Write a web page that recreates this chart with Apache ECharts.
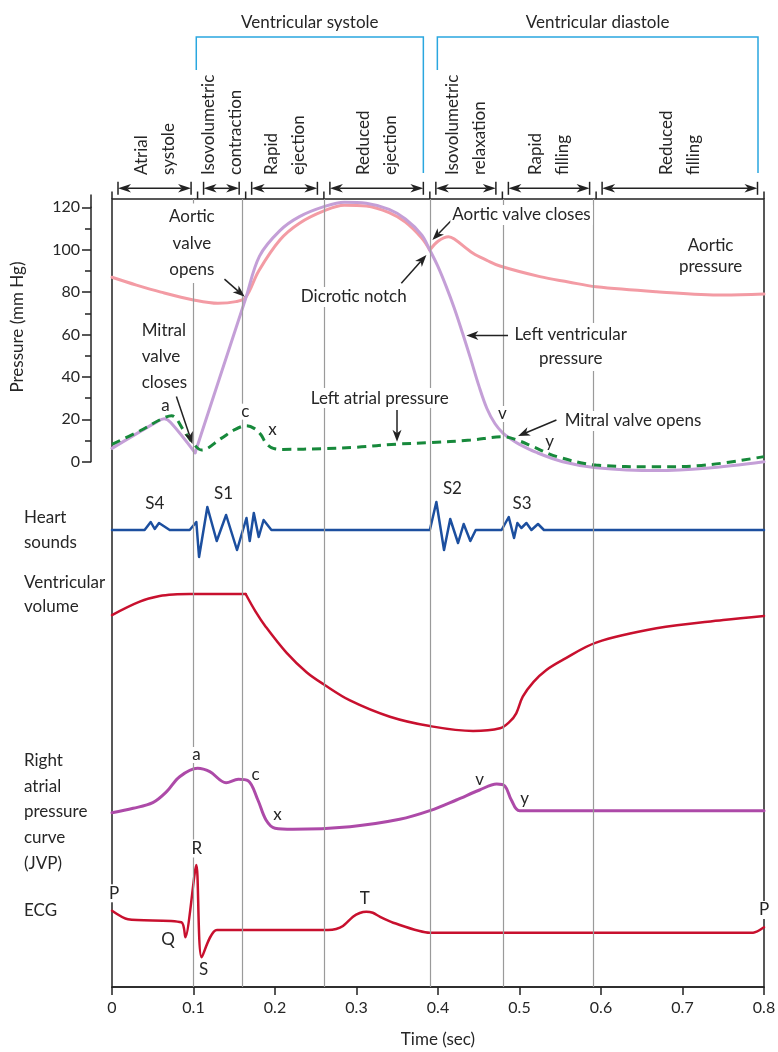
<!DOCTYPE html>
<html>
<head>
<meta charset="utf-8">
<script src="https://cdn.jsdelivr.net/npm/echarts@6/dist/echarts.min.js"></script>
<style>
  html, body { margin: 0; padding: 0; background: #fff; }
  #chart { width: 778px; height: 1052px; }
</style>
</head>
<body>
<div id="chart"></div>
<script>
// phases of the cycle (sec)
const phaseBounds = [0, 0.105, 0.164, 0.26, 0.39, 0.479, 0.594, 0.8];
const phaseNames = ['Atrial\nsystole', 'Isovolumetric\ncontraction', 'Rapid\nejection', 'Reduced\nejection',
  'Isovolumetric\nrelaxation', 'Rapid\nfilling', 'Reduced\nfilling'];

// pressures, mm Hg  [time, value]
const aorticA = [[0, 87], [0.03, 83.3], [0.06, 80], [0.1, 76.3], [0.13, 74.7], [0.152, 75.5], [0.164, 77.5],
  [0.18, 90], [0.206, 104.6], [0.23, 112.5], [0.26, 118.3], [0.285, 121], [0.312, 120.6], [0.34, 117.5],
  [0.36, 113], [0.38, 105.5], [0.39, 99.8]];
const aorticB = [[0.39, 99.8], [0.4, 104], [0.413, 106.1], [0.42, 105], [0.443, 98.3], [0.46, 95], [0.476, 92.3],
  [0.525, 87.3], [0.56, 84.8], [0.594, 82.5], [0.668, 80.2], [0.75, 78.6], [0.8, 79.1]];
const lvA = [[0, 6.3], [0.055, 18.8], [0.064, 20.3], [0.072, 18.5], [0.102, 4.2]];
const lvB = [[0.102, 4.2], [0.132, 39.5], [0.164, 77], [0.181, 97], [0.206, 109], [0.23, 115.6], [0.26, 120.3],
  [0.285, 122.4], [0.312, 121.9], [0.34, 119], [0.36, 114.5], [0.38, 107], [0.39, 99.8], [0.4, 92],
  [0.41, 82.7], [0.42, 72.4], [0.43, 60.8], [0.44, 48.6], [0.45, 36], [0.46, 25.1], [0.47, 17.9],
  [0.48, 13.4], [0.49, 10.6], [0.5, 8.2], [0.52, 4.5], [0.553, 0], [0.594, -2.8], [0.668, -4.2],
  [0.729, -3.1], [0.8, 0]];
const leftAtrial = [[0, 8.2], [0.035, 14.7], [0.06, 20], [0.073, 21.7], [0.089, 14.2], [0.0995, 8.7], [0.11, 5.5],
  [0.134, 11], [0.15, 15], [0.165, 17], [0.175, 15.6], [0.183, 12.6], [0.189, 8.7], [0.198, 6.3], [0.21, 5.8],
  [0.26, 6.2], [0.3, 6.8], [0.349, 8.3], [0.39, 9], [0.44, 10.2], [0.48, 11.8], [0.5, 9.8], [0.517, 7],
  [0.546, 2.4], [0.594, -1.6], [0.668, -2.4], [0.729, -1.6], [0.8, 2.4]];

// heart sounds (relative amplitude)
const heartSounds = [[0, 0],
  [0.04, 0], [0.0475, 8], [0.0524, 1], [0.0577, 7], [0.0708, 0],
  [0.0953, 0], [0.1035, 8], [0.1068, -27], [0.117, 23], [0.1285, -11], [0.14, 15], [0.1534, -20], [0.165, 12],
  [0.169, -11], [0.174, 17], [0.18, -7], [0.186, 10], [0.1956, 0],
  [0.39, 0], [0.398, 28], [0.4074, -20], [0.415, 11], [0.4246, -13], [0.4315, 6], [0.4397, -11], [0.4463, 0],
  [0.478, 0], [0.4868, 13], [0.4933, -8], [0.4974, 7], [0.5023, 2], [0.5085, 7], [0.5146, 0], [0.5227, 6], [0.53, 0],
  [0.8, 0]];

// ventricular volume (mL)
const volumeA = [[0, 117.6], [0.034, 125.5], [0.0585, 128.8], [0.08, 129.8], [0.095, 130], [0.164, 130]];
const volumeB = [[0.164, 130], [0.176, 119.8], [0.189, 110.5], [0.214, 95.5], [0.2387, 84], [0.26, 76.8],
  [0.292, 67.4], [0.341, 57.8], [0.39, 52.3], [0.443, 49.4], [0.476, 51], [0.488, 54.9], [0.496, 59.8],
  [0.504, 69.6], [0.517, 78.2], [0.533, 85.3], [0.553, 91.2], [0.594, 101.4], [0.668, 109.8],
  [0.75, 114.7], [0.8, 117.1]];

// right atrial pressure (mm Hg)
const rightAtrial = [[0, 3.66], [0.026, 4.1], [0.05, 4.66], [0.067, 5.76], [0.083, 7.26], [0.105, 8.1],
  [0.12, 7.76], [0.14, 6.66], [0.155, 7.0], [0.167, 6.86], [0.179, 4.93], [0.189, 2.93], [0.2, 2.1],
  [0.222, 2.0], [0.292, 2.26], [0.353, 3.0], [0.39, 3.86], [0.4226, 4.93], [0.451, 5.93], [0.472, 6.53],
  [0.482, 6.33], [0.49, 4.93], [0.5, 3.86], [0.8, 3.86]];

// ECG (mV)
const ecg = [[0, 0.386], [0.0196, 0.214], [0.0851, 0.154], [0.09, -0.146], [0.1035, 1.3], [0.11, -0.546],
  [0.1288, 0], [0.265, 0], [0.275, 0.02], [0.2834, 0.08], [0.2957, 0.266], [0.304, 0.34], [0.312, 0.366],
  [0.32, 0.345], [0.3285, 0.266], [0.345, 0.146], [0.39, -0.054], [0.7866, -0.054], [0.8, 0.054]];

// annotations in data coordinates: text, time, value, align, line height, white box
const pressureNotes = [
  ['Aortic\nvalve\nopens', 0.098, 103, 'center', 26.5, true],
  ['Mitral\nvalve\ncloses', 0.034, 49.6, 'left', 26.3, true],
  ['a', 0.0655, 26.7, 'center', 16, false],
  ['c', 0.1637, 23.6, 'center', 16, true],
  ['x', 0.1968, 15, 'center', 16, false],
  ['Dicrotic notch', 0.2966, 77.7, 'center', 20, true],
  ['Aortic valve closes', 0.4151, 116.4, 'left', 20, true],
  ['Aortic\npressure', 0.7345, 96.9, 'center', 21, true],
  ['Left ventricular\npressure', 0.5628, 54.1, 'center', 24, true],
  ['Left atrial pressure', 0.3285, 30, 'center', 20, true],
  ['v', 0.479, 22.5, 'center', 16, true],
  ['Mitral valve opens', 0.553, 19.2, 'left', 20, true],
  ['y', 0.537, 9.4, 'center', 16, false]
];
const pressureArrows = [
  [[0.138, 86.1], [0.1628, 77.8]],
  [[0.079, 30.7], [0.0987, 8.4]],
  [[0.355, 84.2], [0.3858, 97.5]],
  [[0.4205, 115.4], [0.3931, 104.6]],
  [[0.4859, 59.5], [0.4348, 59.5]],
  [[0.3497, 24.4], [0.3497, 9.4]],
  [[0.5453, 19.7], [0.4982, 12.1]]
];
const soundNotes = [['S4', 0.0524, 26.7], ['S1', 0.137, 36.7], ['S2', 0.4177, 41], ['S3', 0.503, 26]];
const rightAtrialNotes = [['a', 0.1036, 9.43, true], ['c', 0.176, 7.43, false], ['x', 0.203, 3.43, false],
  ['v', 0.451, 6.93, false], ['y', 0.5064, 5.1, false]];
const ecgNotes = [['P', 0.0025, 0.734], ['Q', 0.0687, -0.186], ['R', 0.104, 1.63], ['S', 0.1125, -0.8],
  ['T', 0.31, 0.62], ['P', 0.8, 0.4]];

const FONT = 'Lato';
const INK = '#222';
const TXT = '#262626';
const LEFT = 112, RIGHT = 14;

const chart = echarts.init(document.getElementById('chart'));

const grids = [
  { top: 199, height: 788, show: true, borderColor: INK, borderWidth: 1.5, backgroundColor: 'transparent' },
  { top: 207.3, height: 254.4 },
  { top: 490, height: 80 },
  { top: 577, height: 170 },
  { top: 749.3, height: 100 },
  { top: 855, height: 150 }
].map(g => Object.assign({ left: LEFT, right: RIGHT, outerBoundsMode: 'none', containLabel: false }, g));

const xAxes = grids.map((g, i) => ({
  type: 'value', gridIndex: i, min: 0, max: 0.8, interval: 0.1, show: i === 0,
  axisLine: { show: true, onZero: false, lineStyle: { color: INK, width: 1.5 } },
  axisTick: { show: true, inside: false, length: 8, lineStyle: { color: INK, width: 1.5 } },
  axisLabel: { color: TXT, fontSize: 16, fontFamily: FONT, margin: 13 },
  splitLine: { show: false },
  name: i === 0 ? 'Time (sec)' : '', nameLocation: 'middle', nameGap: 44,
  nameTextStyle: { color: TXT, fontSize: 17, fontFamily: FONT }
}));

const yRanges = [[0, 1], [0, 120], [-40, 40], [40, 140], [0, 10], [-1.5, 1.5]];
const yAxes = yRanges.map((r, i) => ({
  type: 'value', gridIndex: i, min: r[0], max: r[1], show: i === 1,
  splitLine: { show: false }
}));
Object.assign(yAxes[1], {
  interval: 20, offset: 21,
  axisLine: { show: true, onZero: false, lineStyle: { color: INK, width: 1.5 } },
  axisTick: { show: true, inside: false, length: 9, lineStyle: { color: INK, width: 1.5 } },
  minorTick: { show: true, splitNumber: 2, length: 6, lineStyle: { color: INK, width: 1.5 } },
  axisLabel: { color: TXT, fontSize: 16, fontFamily: FONT, margin: 11 }
});

function curve(data, gi, color, width, smooth, extra) {
  return Object.assign({
    type: 'line', data, xAxisIndex: gi, yAxisIndex: gi, symbol: 'none', showSymbol: false,
    smooth, clip: false, silent: true,
    lineStyle: { color, width, cap: 'round', join: 'round' }
  }, extra || {});
}

const PINK = '#f39ba4', LAV = '#c49fd7', GREEN = '#17893b', BLUE = '#1c4f9f', RED = '#c8102e', MAG = '#ad4aa8';

const series = [
  {
    type: 'line', data: [], xAxisIndex: 0, yAxisIndex: 0, symbol: 'none', silent: true,
    markLine: {
      silent: true, symbol: ['none', 'none'], label: { show: false },
      lineStyle: { color: '#9a9a9a', width: 1.2, type: 'solid' },
      data: phaseBounds.slice(1, -1).map(t => ({ xAxis: t }))
    }
  },
  curve(aorticA, 1, PINK, 3, 0.35),
  curve(aorticB, 1, PINK, 3, 0.35),
  curve(lvA, 1, LAV, 3, 0.35),
  curve(lvB, 1, LAV, 3, 0.35),
  curve(leftAtrial, 1, GREEN, 3, 0.35, { lineStyle: { color: GREEN, width: 3, type: [9, 6] } }),
  curve(heartSounds, 2, BLUE, 2.5, false),
  curve(volumeA, 3, RED, 2.5, 0.35),
  curve(volumeB, 3, RED, 2.5, 0.35),
  curve(rightAtrial, 4, MAG, 3, 0.35),
  curve(ecg, 5, RED, 2.5, 0.25)
];

chart.setOption({
  animation: false,
  backgroundColor: '#fff',
  textStyle: { fontFamily: FONT },
  grid: grids, xAxis: xAxes, yAxis: yAxes, series
});

// ---- annotations, placed through the chart's own scales ----
const P = (gi, t, v) => chart.convertToPixel({ gridIndex: gi }, [t, v]);
const X = t => P(0, t, 0)[0];
const g = [];

function text(str, p, o) {
  o = o || {};
  const align = o.align || 'center', valign = o.valign || 'middle';
  const style = {
    text: str, fill: o.fill || TXT, fontSize: o.size || 17, fontFamily: FONT,
    align, verticalAlign: valign, textAlign: align, textVerticalAlign: valign,
    lineHeight: o.lh || 22
  };
  if (o.bg !== false) { style.backgroundColor = '#fff'; style.padding = [0, 2]; }
  g.push({ type: 'text', x: p[0], y: p[1], rotation: o.rotation || 0, z: 200, silent: true, style });
}
function seg(p0, p1, stroke, w) {
  g.push({ type: 'line', z: 190, silent: true, shape: { x1: p0[0], y1: p0[1], x2: p1[0], y2: p1[1] },
    style: { stroke: stroke || INK, lineWidth: w || 1.5 } });
}
function head(tip, from, len, half) {
  const dx = tip[0] - from[0], dy = tip[1] - from[1];
  const d = Math.hypot(dx, dy), ux = dx / d, uy = dy / d, nx = -uy, ny = ux;
  const bx = tip[0] - ux * len, by = tip[1] - uy * len;
  const mx = tip[0] - ux * len * 0.72, my = tip[1] - uy * len * 0.72;
  g.push({ type: 'polygon', z: 191, silent: true,
    shape: { points: [tip, [bx + nx * half, by + ny * half], [mx, my], [bx - nx * half, by - ny * half]] },
    style: { fill: INK } });
  return [mx, my];
}
function arrow(p0, p1) {
  const base = head(p1, p0, 12, 4.5);
  seg(p0, base);
}

// pressure panel notes
pressureNotes.forEach(n => text(n[0], P(1, n[1], n[2]), { align: n[3], lh: n[4], bg: n[5] }));
pressureArrows.forEach(a => arrow(P(1, a[0][0], a[0][1]), P(1, a[1][0], a[1][1])));

// pressure axis line runs a bit above 120, title beside it
const axX = X(0) - 21;
seg([axX, P(1, 0, 120)[1]], [axX, P(1, 0, 126)[1]], INK, 1.5);
text('Pressure (mm Hg)', [axX - 73, P(1, 0, 63.5)[1]], { rotation: Math.PI / 2, bg: false });

soundNotes.forEach(n => text(n[0], P(2, n[1], n[2]), { bg: false }));
rightAtrialNotes.forEach(n => text(n[0], P(4, n[1], n[2]), { bg: n[3], lh: 16 }));
ecgNotes.forEach(n => text(n[0], P(5, n[1], n[2]), { lh: 18 }));

// row titles on the left
text('Heart\nsounds', [22, P(2, 0, 0)[1]], { align: 'left', lh: 25 });
text('Ventricular\nvolume', [22, P(3, 0, 129.5)[1]], { align: 'left', lh: 24 });
text('Right\natrial\npressure\ncurve\n(JVP)', [22, P(4, 0, 3.73)[1]], { align: 'left', lh: 25.7 });
text('ECG', [22, P(5, 0, 0.38)[1]], { align: 'left' });

// phase arrows above the frame
const frameTop = P(0, 0, 1)[1];
const arrowY = frameTop - 10.7;
const ends = [];
for (let i = 0; i < phaseNames.length; i++) {
  const x0 = X(phaseBounds[i]) + 6, x1 = X(phaseBounds[i + 1]) - 6.5;
  ends.push([x0, x1]);
  const b0 = head([x0, arrowY], [x1, arrowY], 13, 4.3);
  const b1 = head([x1, arrowY], [x0, arrowY], 13, 4.3);
  seg(b0, b1);
  seg([x0, arrowY - 6.5], [x0, arrowY + 6.5]);
  seg([x1, arrowY - 6.5], [x1, arrowY + 6.5]);
  const cx = (X(phaseBounds[i]) + X(phaseBounds[i + 1])) / 2;
  text(phaseNames[i], [cx, frameTop - 24], { align: 'left', rotation: Math.PI / 2, lh: 27, bg: false });
}
phaseBounds.forEach(t => seg([X(t), frameTop - 7.5], [X(t), frameTop]));

// systole / diastole brackets
const CYAN = '#2aa7df';
function bracket(l, r, title) {
  g.push({ type: 'polyline', z: 190, silent: true,
    shape: { points: [[l, 70], [l, 37], [r, 37], [r, frameTop - 26]] },
    style: { stroke: CYAN, lineWidth: 1.5, fill: null } });
  text(title, [(l + r) / 2, 23], { bg: false });
}
bracket(X(phaseBounds[1]) - 1.3, ends[3][1], 'Ventricular systole');
bracket(ends[4][0] + 1.5, ends[6][1] + 0.5, 'Ventricular diastole');

chart.setOption({ graphic: { elements: g } });
</script>
</body>
</html>
